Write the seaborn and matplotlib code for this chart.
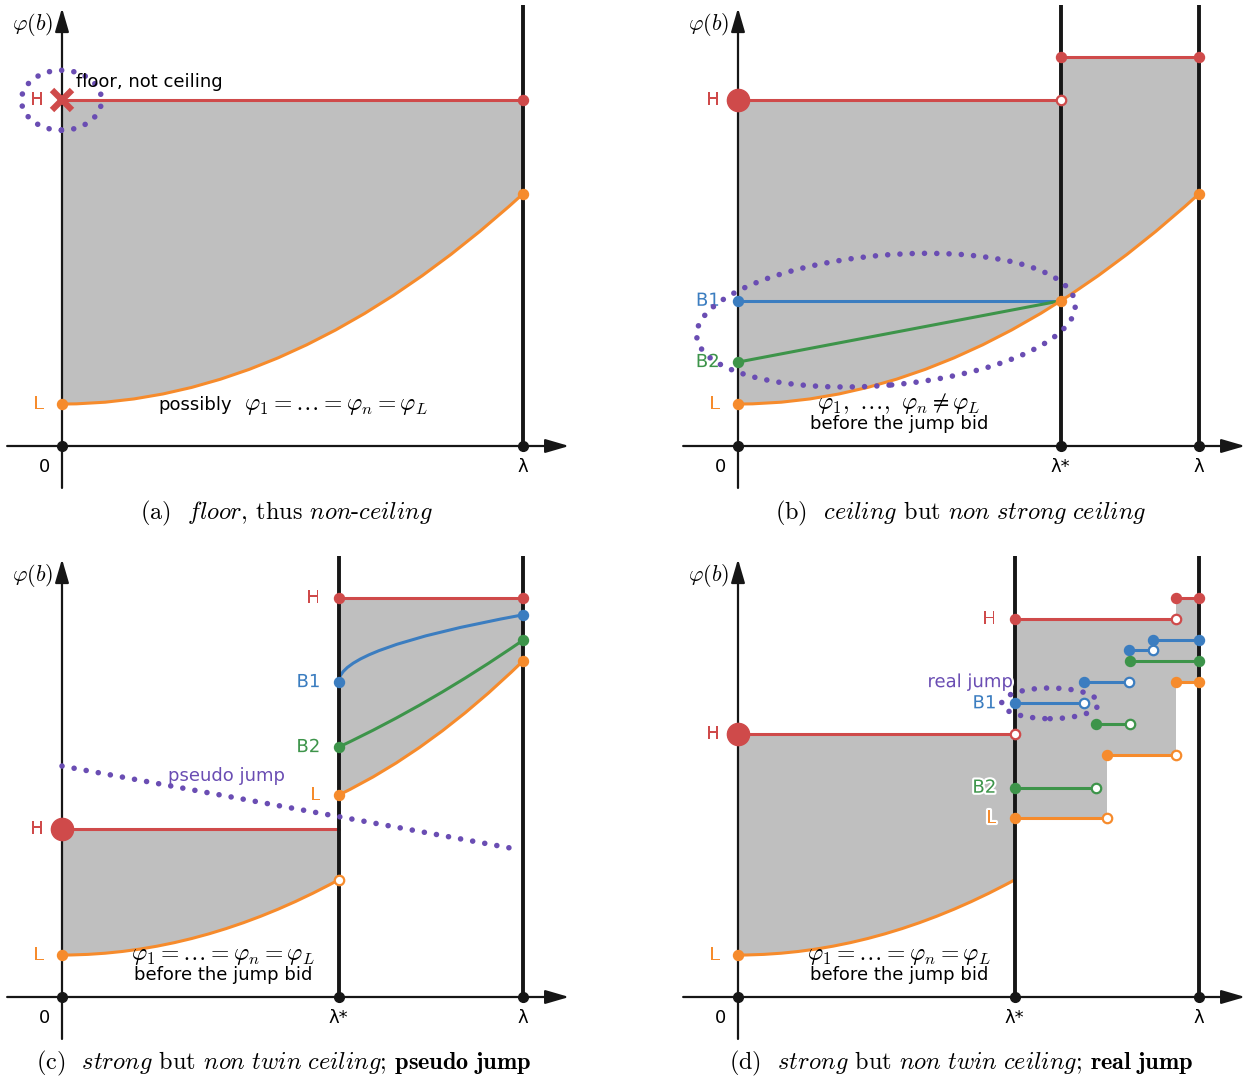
import numpy as np
import pandas as pd
import seaborn as sns
import matplotlib.pyplot as plt
import matplotlib.patheffects as pe
from matplotlib.path import Path
from matplotlib.patches import PathPatch, Ellipse

sns.set_theme(style="white")
plt.rcParams['font.family'] = ['DejaVu Sans']
plt.rcParams['mathtext.fontset'] = 'cm'
plt.rcParams['text.color'] = 'black'

RED = '#cf4a4a'
ORANGE = '#f68b2c'
BLUE = '#3b7dc0'
GREEN = '#3d944a'
PURPLE = '#6a4db3'
GRAY = '#bfbfbf'
AXIS = '#161616'

# ---- data, in units where lambda = 1 ----
# curves are quadratic bezier: (start, control, end)
# (a)
a_H = 0.75
a_low = [(0.0, 0.091), (0.5, 0.091), (1.0, 0.547)]
# (b)
b_lstar = 0.70
b_H = 0.75
b_Htop = 0.844
b_B1 = 0.315
b_B2 = 0.182
b_low = [(0.0, 0.091), (0.5, 0.091), (1.0, 0.547)]
# (c)
c_lstar = 0.60
c_H_left = 0.364
c_H_right = 0.866
c_low_left = [(0.0, 0.091), (0.3, 0.091), (0.6, 0.254)]
c_low_right = [(0.6, 0.438), (0.8, 0.534), (1.0, 0.729)]
c_B1 = [(0.6, 0.683), (0.6, 0.756), (1.0, 0.829)]
c_B2 = [(0.6, 0.542), (0.8, 0.636), (1.0, 0.774)]
c_pseudo_x = [0.0, 0.99]
c_pseudo_y = [0.501, 0.320]
# (d)
d_lstar = 0.60
d_H_left = 0.570
d_low_left = [(0.0, 0.091), (0.3, 0.091), (0.6, 0.254)]
# step functions right of lambda*: breakpoints and levels
d_H_x = [0.60, 0.95, 1.00]
d_H_y = [0.819, 0.865]
d_B1_x = [0.60, 0.751, 0.849, 0.901, 1.00]
d_B1_y = [0.637, 0.683, 0.753, 0.774]
d_B2_x = [0.60, 0.776, 0.850, 1.00]
d_B2_y = [0.454, 0.592, 0.729]
d_L_x = [0.60, 0.800, 0.950, 1.00]
d_L_y = [0.388, 0.524, 0.683]

# ---- layout ----
fig = plt.figure(figsize=(12.51, 10.81), dpi=100)
PX_W, PX_H, S = 1251, 1081, 461.0


def make_panel(ox, oy, x0, y0, w=575, h=500):
    ax = fig.add_axes([x0 / PX_W, 1 - (y0 + h) / PX_H, w / PX_W, h / PX_H])
    ax.set_xlim((x0 - ox) / S, (x0 + w - ox) / S)
    ax.set_ylim((oy - y0 - h) / S, (oy - y0) / S)
    ax.set_autoscale_on(False)
    ax.set_axis_off()
    return ax


def frame(ax, xs, labels):
    arrow = dict(arrowstyle='-|>,head_length=1.2,head_width=0.35', color=AXIS,
                 lw=1.6, shrinkA=0, shrinkB=0)
    ax.annotate('', xy=(1.10, 0), xytext=(-0.119, 0), arrowprops=arrow)
    ax.annotate('', xy=(0, 0.95), xytext=(0, -0.091), arrowprops=arrow)
    for xv in xs[1:]:
        ax.plot([xv, xv], [0, 0.956], color=AXIS, lw=2.8, zorder=4, solid_capstyle='butt')
    ax.plot(xs, [0] * len(xs), 'o', color=AXIS, ms=7, zorder=7)
    for xv, lab in zip(xs, labels):
        ax.text(xv if xv else -0.037, -0.045, lab, ha='center', va='center', fontsize=13)
    ax.text(-0.063, 0.915, r'$\varphi(b)$', ha='center', va='center', fontsize=16)


def bezier(ax, pts, color):
    path = Path(pts, [Path.MOVETO, Path.CURVE3, Path.CURVE3])
    ax.add_patch(PathPatch(path, fill=False, edgecolor=color, lw=2.2, zorder=3))


def region(ax, curve, top):
    verts = list(curve) + list(top) + [curve[0]]
    codes = [Path.MOVETO, Path.CURVE3, Path.CURVE3] + [Path.LINETO] * len(top) + [Path.CLOSEPOLY]
    ax.add_patch(PathPatch(Path(verts, codes), facecolor=GRAY, edgecolor='none', zorder=1))


def hline(ax, x0, x1, y, color):
    ax.plot([x0, x1], [y, y], color=color, lw=2.2, zorder=3)


def dot(ax, x, y, color, ms=7.2):
    ax.plot([x], [y], 'o', color=color, ms=ms, zorder=7)


def odot(ax, x, y, color):
    ax.plot([x], [y], 'o', mfc='white', mec=color, mew=1.6, ms=6.8, zorder=7)


def label(ax, x, y, s, color):
    ax.text(x, y, s, color=color, ha='right', va='center', fontsize=13, zorder=8,
            path_effects=[pe.withStroke(linewidth=3, foreground='white')])


def dotted_ellipse(ax, xy, w, h, angle=0):
    ax.add_patch(Ellipse(xy, w, h, angle=angle, fill=False, edgecolor=PURPLE, lw=4,
                         linestyle=(0, (0.01, 2.2)), capstyle='round', zorder=9))


def step_at(xs, ys, x):
    i = min(np.searchsorted(xs, x, side='right') - 1, len(ys) - 1)
    return ys[i]


MATH = 17

# ---- (a) ----
ax = make_panel(62, 446, 0, 0, w=600)
frame(ax, [0, 1], ['0', 'λ'])
region(ax, a_low, [(1, a_H), (0, a_H)])
hline(ax, 0, 1, a_H, RED)
bezier(ax, a_low, ORANGE)
dot(ax, 1, a_H, RED)
dot(ax, 0, a_low[0][1], ORANGE)
dot(ax, 1, a_low[2][1], ORANGE)
ax.plot([0], [a_H], 'x', color=RED, ms=15, mew=4.5, zorder=8)
dotted_ellipse(ax, (-0.001, a_H), 0.174, 0.13)
label(ax, -0.04, a_H, 'H', RED)
label(ax, -0.04, a_low[0][1], 'L', ORANGE)
ax.text(0.03, 0.79, 'floor, not ceiling', fontsize=13, va='center', zorder=10)
ax.text(0.21, 0.089, 'possibly', fontsize=13, va='center', zorder=10)
ax.text(0.395, 0.089, r'$\varphi_1 = \ldots = \varphi_n = \varphi_L$', fontsize=MATH, va='center', zorder=10)

# ---- (b) ----
ax = make_panel(738, 446, 676, 0)
frame(ax, [0, b_lstar, 1], ['0', 'λ*', 'λ'])
region(ax, b_low, [(1, b_Htop), (b_lstar, b_Htop), (b_lstar, b_H), (0, b_H)])
hline(ax, 0, b_lstar, b_H, RED)
hline(ax, b_lstar, 1, b_Htop, RED)
hline(ax, 0, b_lstar, b_B1, BLUE)
ax.plot([0, b_lstar], [b_B2, b_B1], color=GREEN, lw=2.2, zorder=3)
bezier(ax, b_low, ORANGE)
dot(ax, 0, b_H, RED, ms=16)
odot(ax, b_lstar, b_H, RED)
dot(ax, b_lstar, b_Htop, RED)
dot(ax, 1, b_Htop, RED)
dot(ax, 0, b_B1, BLUE)
dot(ax, 0, b_B2, GREEN)
dot(ax, 0, b_low[0][1], ORANGE)
dot(ax, b_lstar, b_B1, ORANGE)
dot(ax, 1, b_low[2][1], ORANGE)
dotted_ellipse(ax, (0.321, 0.273), 0.824, 0.282, angle=5)
label(ax, -0.04, b_H, 'H', RED)
label(ax, -0.04, b_B1, 'B1', BLUE)
label(ax, -0.04, b_B2, 'B2', GREEN)
label(ax, -0.04, b_low[0][1], 'L', ORANGE)
ax.text(0.349, 0.093, r'$\varphi_1,\ \ldots,\ \varphi_n \neq \varphi_L$', fontsize=MATH,
        ha='center', va='center', zorder=10)
ax.text(0.349, 0.048, 'before the jump bid', fontsize=13, ha='center', va='center', zorder=10)

# ---- (c) ----
ax = make_panel(62, 997, 0, 551, w=600)
frame(ax, [0, c_lstar, 1], ['0', 'λ*', 'λ'])
region(ax, c_low_left, [(c_lstar, c_H_left), (0, c_H_left)])
region(ax, c_low_right, [(1, c_H_right), (c_lstar, c_H_right)])
hline(ax, 0, c_lstar, c_H_left, RED)
hline(ax, c_lstar, 1, c_H_right, RED)
for curve, col in [(c_low_left, ORANGE), (c_low_right, ORANGE), (c_B1, BLUE), (c_B2, GREEN)]:
    bezier(ax, curve, col)
    dot(ax, curve[0][0], curve[0][1], col)
    if curve is not c_low_left:
        dot(ax, curve[2][0], curve[2][1], col)
odot(ax, c_lstar, c_low_left[2][1], ORANGE)
dot(ax, 0, c_H_left, RED, ms=16)
dot(ax, c_lstar, c_H_right, RED)
dot(ax, 1, c_H_right, RED)
ax.plot(c_pseudo_x, c_pseudo_y, color=PURPLE, lw=4, linestyle=(0, (0.01, 2.2)),
        dash_capstyle='round', zorder=9)
ax.text(0.23, 0.479, 'pseudo jump', color=PURPLE, fontsize=13, va='center', zorder=10)
label(ax, -0.04, c_H_left, 'H', RED)
label(ax, -0.04, c_low_left[0][1], 'L', ORANGE)
label(ax, c_lstar - 0.04, c_H_right, 'H', RED)
label(ax, c_lstar - 0.04, c_B1[0][1], 'B1', BLUE)
label(ax, c_lstar - 0.04, c_B2[0][1], 'B2', GREEN)
label(ax, c_lstar - 0.04, c_low_right[0][1], 'L', ORANGE)
ax.text(0.349, 0.091, r'$\varphi_1 = \ldots = \varphi_n = \varphi_L$', fontsize=MATH,
        ha='center', va='center', zorder=10)
ax.text(0.349, 0.048, 'before the jump bid', fontsize=13, ha='center', va='center', zorder=10)

# ---- (d) ----
ax = make_panel(738, 997, 676, 551)
frame(ax, [0, d_lstar, 1], ['0', 'λ*', 'λ'])
region(ax, d_low_left, [(d_lstar, d_H_left), (0, d_H_left)])
xb = sorted(set(d_H_x) | set(d_L_x))
lo = [step_at(d_L_x, d_L_y, x) for x in xb]
hi = [step_at(d_H_x, d_H_y, x) for x in xb]
ax.fill_between(xb, lo, hi, step='post', color=GRAY, lw=0, zorder=1)
hline(ax, 0, d_lstar, d_H_left, RED)
bezier(ax, d_low_left, ORANGE)
dot(ax, 0, d_H_left, RED, ms=16)
odot(ax, d_lstar, d_H_left, RED)
dot(ax, 0, d_low_left[0][1], ORANGE)

steps = [('H', d_H_x, d_H_y), ('B1', d_B1_x, d_B1_y), ('B2', d_B2_x, d_B2_y), ('L', d_L_x, d_L_y)]
palette = {'H': RED, 'B1': BLUE, 'B2': GREEN, 'L': ORANGE}
rows = []
for name, xs, ys in steps:
    for i, y in enumerate(ys):
        rows.append(dict(series=name, seg=f'{name}{i}', x=xs[i], y=y))
        rows.append(dict(series=name, seg=f'{name}{i}', x=xs[i + 1], y=y))
df_steps = pd.DataFrame(rows)
sns.lineplot(data=df_steps, x='x', y='y', hue='series', units='seg', estimator=None,
             palette=palette, legend=False, lw=2.2, sort=False, ax=ax, zorder=3)
for name, xs, ys in steps:
    col = palette[name]
    for i, y in enumerate(ys):
        dot(ax, xs[i], y, col)
        if i < len(ys) - 1:
            odot(ax, xs[i + 1], y, col)
    dot(ax, xs[-1], ys[-1], col)
    label(ax, d_lstar - 0.04, ys[0], name, col)
dotted_ellipse(ax, (0.677, d_B1_y[0]), 0.21, 0.0665)
ax.text(0.597, 0.683, 'real jump', color=PURPLE, fontsize=13, ha='right', va='center', zorder=10,
        path_effects=[pe.withStroke(linewidth=3, foreground='white')])
label(ax, -0.04, d_H_left, 'H', RED)
label(ax, -0.04, d_low_left[0][1], 'L', ORANGE)
ax.text(0.349, 0.091, r'$\varphi_1 = \ldots = \varphi_n = \varphi_L$', fontsize=MATH,
        ha='center', va='center', zorder=10)
ax.text(0.349, 0.048, 'before the jump bid', fontsize=13, ha='center', va='center', zorder=10)

# ---- captions ----
captions = [
    (286, 513, r'(a)  $\mathit{floor}$, thus $\mathit{non}$-$\mathit{ceiling}$'),
    (961, 513, r'(b)  $\mathit{ceiling}$ but $\mathit{non\ strong\ ceiling}$'),
    (284, 1063, r'(c)  $\mathit{strong}$ but $\mathit{non\ twin\ ceiling}$; $\mathbf{pseudo\ jump}$'),
    (961, 1063, r'(d)  $\mathit{strong}$ but $\mathit{non\ twin\ ceiling}$; $\mathbf{real\ jump}$'),
]
for cx, cy, txt in captions:
    fig.text(cx / PX_W, 1 - cy / PX_H, txt, ha='center', va='center', fontsize=17.5, family='cmr10')

fig.savefig('out.png', dpi=100)
